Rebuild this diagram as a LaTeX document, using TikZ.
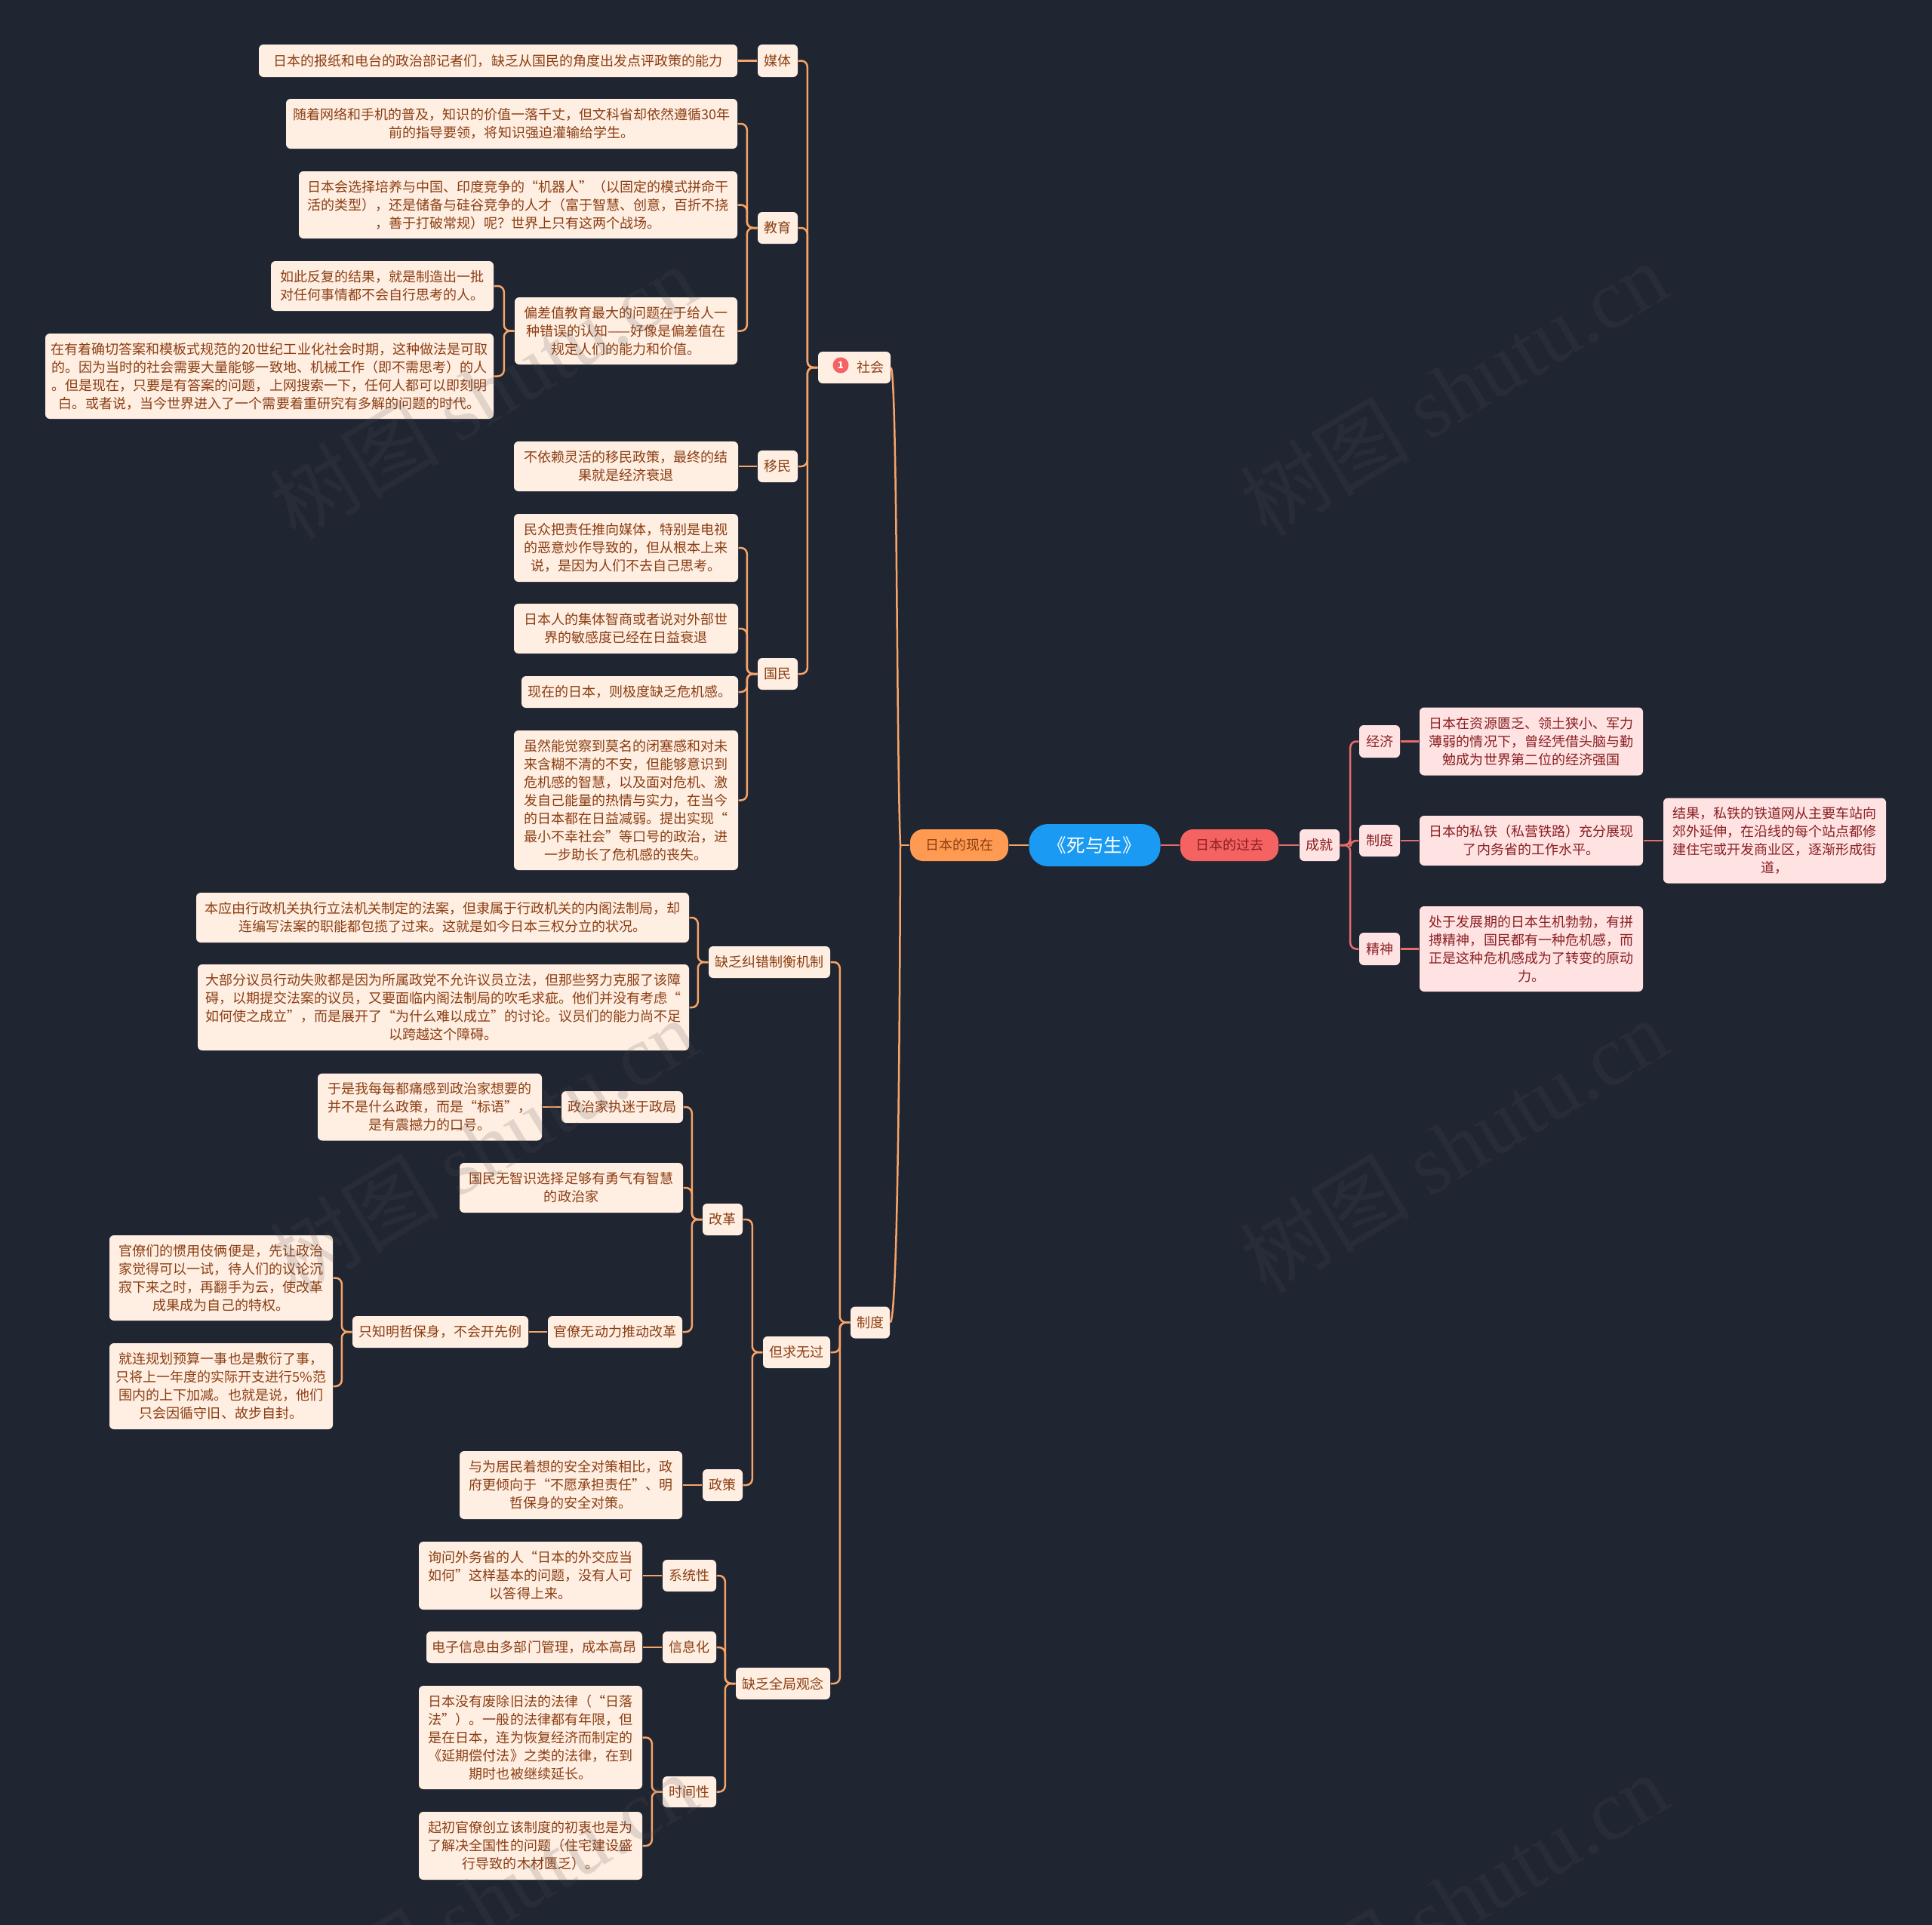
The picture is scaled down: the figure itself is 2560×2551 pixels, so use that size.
\documentclass[tikz,border=0pt]{standalone}
\usepackage{fontspec}
\setmainfont{Noto Sans CJK SC}
\newfontfamily\wmfont{Liberation Serif}
\definecolor{bgDark}{RGB}{32,37,50}
\definecolor{warmFill}{RGB}{255,238,226}
\definecolor{warmText}{RGB}{139,62,18}
\definecolor{warmLine}{RGB}{246,164,104}
\definecolor{roseFill}{RGB}{255,226,226}
\definecolor{roseText}{RGB}{138,31,34}
\definecolor{roseLine}{RGB}{232,108,106}
\definecolor{rootBlue}{RGB}{26,154,243}
\definecolor{nowOrange}{RGB}{255,154,82}
\definecolor{pastRed}{RGB}{245,98,98}
\definecolor{wmGray}{RGB}{83,83,83}
\tikzset{
  sz/.style 2 args={minimum width=#1*0.01cm, minimum height=#2*0.01cm},
  box/.style={inner sep=0pt, align=center, rounded corners=0.06cm,
    font=\fontsize{5.12}{6.83}\selectfont},
  warm/.style={box, fill=warmFill, text=warmText},
  rose/.style={box, fill=roseFill, text=roseText},
  pill/.style={box, rounded corners=0.17cm},
  linkW/.style={warmLine, line width=0.025cm, rounded corners=0.08cm},
  linkR/.style={roseLine, line width=0.025cm, rounded corners=0.08cm},
  wmark/.style={rotate=31, text=wmGray, text opacity=0.17,
    font=\fontsize{32}{32}\selectfont}
}
\begin{document}
\begin{tikzpicture}[x=0.01cm, y=-0.01cm]
  \fill[bgDark] (0,0) rectangle (2560,2551);
  \useasboundingbox (0,0) rectangle (2560,2551);
  % Centre
  \node[pill, sz={174}{56}, fill=rootBlue, text=white, rounded corners=0.25cm,
    font=\fontsize{7}{9}\selectfont] (root) at (1450.5,1120) {《死与生》};
  \node[pill, sz={130}{42}, fill=nowOrange, text=warmText] (now) at (1271,1120) {日本的现在};
  \node[pill, sz={130}{42}, fill=pastRed, text=roseText] (past) at (1629,1120) {日本的过去};
  % Past side
  \node[rose, sz={53}{42}] (chengjiu) at (1748.5,1120) {成就};
  \node[rose, sz={54}{43}] (jingji) at (1828,982.5) {经济};
  \node[rose, sz={54}{42}] (zhiduP) at (1828,1114) {制度};
  \node[rose, sz={54}{43}] (jingshen) at (1828,1257.5) {精神};
  \node[rose, sz={296}{90}] (jingjiA) at (2029,982.5) {日本在资源匮乏、领土狭小、军力\\薄弱的情况下，曾经凭借头脑与勤\\勉成为世界第二位的经济强国};
  \node[rose, sz={296}{66}] (zhidupA) at (2029,1114) {日本的私铁（私营铁路）充分展现\\了内务省的工作水平。};
  \node[rose, sz={295}{113}] (zhidupB) at (2351.5,1114) {结果，私铁的铁道网从主要车站向\\郊外延伸，在沿线的每个站点都修\\建住宅或开发商业区，逐渐形成街\\道，};
  \node[rose, sz={296}{113}] (jingshenA) at (2029,1257.5) {处于发展期的日本生机勃勃，有拼\\搏精神，国民都有一种危机感，而\\正是这种危机感成为了转变的原动\\力。};
  % Society
  \node[warm, sz={96}{42}] (shehui) at (1132,487) {\hspace{0.42cm}社会};
  \node[circle, fill=pastRed, text=white, inner sep=0pt, minimum size=0.21cm,
    font=\fontsize{3.6}{4}\selectfont\bfseries] (badge) at (1114,484) {1};
  \node[warm, sz={53}{43}] (meiti) at (1030.5,80.5) {媒体};
  \node[warm, sz={634}{43}] (meitiA) at (660,80.5) {日本的报纸和电台的政治部记者们，缺乏从国民的角度出发点评政策的能力};
  \node[warm, sz={53}{42}] (jiaoyu) at (1030.5,302) {教育};
  \node[warm, sz={598}{66}] (jiaoyuA) at (678,164) {随着网络和手机的普及，知识的价值一落千丈，但文科省却依然遵循30年\\前的指导要领，将知识强迫灌输给学生。};
  \node[warm, sz={581}{89}] (jiaoyuB) at (686.5,271.5) {日本会选择培养与中国、印度竞争的“机器人”（以固定的模式拼命干\\活的类型），还是储备与硅谷竞争的人才（富于智慧、创意，百折不挠\\，善于打破常规）呢？世界上只有这两个战场。};
  \node[warm, sz={295}{89}] (jiaoyuC) at (829.5,438.5) {偏差值教育最大的问题在于给人一\\种错误的认知——好像是偏差值在\\规定人们的能力和价值。};
  \node[warm, sz={295}{66}] (jiaoyuCa) at (506.5,379) {如此反复的结果，就是制造出一批\\对任何事情都不会自行思考的人。};
  \node[warm, sz={594}{113}] (jiaoyuCb) at (357,498.5) {在有着确切答案和模板式规范的20世纪工业化社会时期，这种做法是可取\\的。因为当时的社会需要大量能够一致地、机械工作（即不需思考）的人\\。但是现在，只要是有答案的问题，上网搜索一下，任何人都可以即刻明\\白。或者说，当今世界进入了一个需要着重研究有多解的问题的时代。};
  \node[warm, sz={53}{42}] (yimin) at (1030.5,618) {移民};
  \node[warm, sz={297}{66}] (yiminA) at (829.5,618) {不依赖灵活的移民政策，最终的结\\果就是经济衰退};
  \node[warm, sz={53}{42}] (guomin) at (1030.5,893) {国民};
  \node[warm, sz={297}{90}] (guominA) at (829.5,726) {民众把责任推向媒体，特别是电视\\的恶意炒作导致的，但从根本上来\\说，是因为人们不去自己思考。};
  \node[warm, sz={297}{66}] (guominB) at (829.5,833) {日本人的集体智商或者说对外部世\\界的敏感度已经在日益衰退};
  \node[warm, sz={287}{42}] (guominC) at (834.5,917) {现在的日本，则极度缺乏危机感。};
  \node[warm, sz={297}{185}] (guominD) at (829.5,1060.5) {虽然能觉察到莫名的闭塞感和对未\\来含糊不清的不安，但能够意识到\\危机感的智慧，以及面对危机、激\\发自己能量的热情与实力，在当今\\的日本都在日益减弱。提出实现“\\最小不幸社会”等口号的政治，进\\一步助长了危机感的丧失。};
  % System
  \node[warm, sz={52}{42}] (zhidu) at (1153,1752.5) {制度};
  \node[warm, sz={161}{42}] (jiucuo) at (1019.5,1275) {缺乏纠错制衡机制};
  \node[warm, sz={653}{66}] (jiucuoA) at (586.5,1216) {本应由行政机关执行立法机关制定的法案，但隶属于行政机关的内阁法制局，却\\连编写法案的职能都包揽了过来。这就是如今日本三权分立的状况。};
  \node[warm, sz={651}{114}] (jiucuoB) at (587.5,1335) {大部分议员行动失败都是因为所属政党不允许议员立法，但那些努力克服了该障\\碍，以期提交法案的议员，又要面临内阁法制局的吹毛求疵。他们并没有考虑“\\如何使之成立”，而是展开了“为什么难以成立”的讨论。议员们的能力尚不足\\以跨越这个障碍。};
  \node[warm, sz={89}{42}] (wuguo) at (1055.5,1792) {但求无过};
  \node[warm, sz={53}{42}] (gaige) at (957.5,1616) {改革};
  \node[warm, sz={161}{42}] (gaigeA) at (824.5,1467) {政治家执迷于政局};
  \node[warm, sz={297}{89}] (gaigeAa) at (569.5,1467) {于是我每每都痛感到政治家想要的\\并不是什么政策，而是“标语”，\\是有震撼力的口号。};
  \node[warm, sz={296}{66}] (gaigeB) at (757,1574) {国民无智识选择足够有勇气有智慧\\的政治家};
  \node[warm, sz={178}{42}] (gaigeC) at (815,1765) {官僚无动力推动改革};
  \node[warm, sz={233}{42}] (gaigeCa) at (583.5,1765) {只知明哲保身，不会开先例};
  \node[warm, sz={296}{113}] (gaigeCb) at (293,1693.5) {官僚们的惯用伎俩便是，先让政治\\家觉得可以一试，待人们的议论沉\\寂下来之时，再翻手为云，使改革\\成果成为自己的特权。};
  \node[warm, sz={296}{114}] (gaigeCc) at (293,1837) {就连规划预算一事也是敷衍了事，\\只将上一年度的实际开支进行5\%范\\围内的上下加减。也就是说，他们\\只会因循守旧、故步自封。};
  \node[warm, sz={53}{42}] (zhengce) at (957.5,1968) {政策};
  \node[warm, sz={295}{90}] (zhengceA) at (756.5,1968) {与为居民着想的安全对策相比，政\\府更倾向于“不愿承担责任”、明\\哲保身的安全对策。};
  \node[warm, sz={125}{42}] (quanju) at (1037.5,2231) {缺乏全局观念};
  \node[warm, sz={71}{42}] (xitong) at (913.5,2088) {系统性};
  \node[warm, sz={296}{90}] (xitongA) at (703,2088) {询问外务省的人“日本的外交应当\\如何”这样基本的问题，没有人可\\以答得上来。};
  \node[warm, sz={71}{42}] (xinxi) at (913.5,2183) {信息化};
  \node[warm, sz={286}{42}] (xinxiA) at (708,2183) {电子信息由多部门管理，成本高昂};
  \node[warm, sz={71}{41}] (shijian) at (913.5,2374.5) {时间性};
  \node[warm, sz={296}{137}] (shijianA) at (703,2302.5) {日本没有废除旧法的法律（“日落\\法”）。一般的法律都有年限，但\\是在日本，连为恢复经济而制定的\\《延期偿付法》之类的法律，在到\\期时也被继续延长。};
  \node[warm, sz={296}{90}] (shijianB) at (703,2446) {起初官僚创立该制度的初衷也是为\\了解决全国性的问题（住宅建设盛\\行导致的木材匮乏）。};
  % Connectors
  \coordinate (nowJoin) at (1193,1120);
  \draw[linkW] (root) -- (now);
  \draw[linkW] (now.west) -- (nowJoin);
  \draw[linkW] (shehui.east) .. controls (1189,505) and (1188,1000) .. (nowJoin);
  \draw[linkW] (zhidu.east) .. controls (1189,1745) and (1192,1420) .. (nowJoin);
  \foreach \from/\to in {shehui/meiti, shehui/jiaoyu, shehui/yimin, shehui/guomin,
      jiaoyu/jiaoyuA, jiaoyu/jiaoyuB, jiaoyu/jiaoyuC,
      jiaoyuC/jiaoyuCa, jiaoyuC/jiaoyuCb,
      guomin/guominA, guomin/guominB, guomin/guominC, guomin/guominD,
      zhidu/jiucuo, zhidu/wuguo, zhidu/quanju, jiucuo/jiucuoA, jiucuo/jiucuoB,
      wuguo/gaige, wuguo/zhengce, gaige/gaigeA, gaige/gaigeB, gaige/gaigeC,
      gaigeCa/gaigeCb, gaigeCa/gaigeCc,
      quanju/xitong, quanju/xinxi, quanju/shijian,
      shijian/shijianA, shijian/shijianB}
    \draw[linkW] (\from.west) -- ++(-13.5,0) |- (\to.east);
  \foreach \from/\to in {meiti/meitiA, yimin/yiminA, gaigeA/gaigeAa, gaigeC/gaigeCa,
      zhengce/zhengceA, xitong/xitongA, xinxi/xinxiA}
    \draw[linkW] (\from.west) -- (\to.east);
  \draw[linkR] (root) -- (past);
  \draw[linkR] (past) -- (chengjiu);
  \foreach \from/\to in {chengjiu/jingji, chengjiu/zhiduP, chengjiu/jingshen}
    \draw[linkR] (\from.east) -- ++(13.5,0) |- (\to.west);
  \foreach \from/\to in {jingji/jingjiA, zhiduP/zhidupA, zhidupA/zhidupB, jingshen/jingshenA}
    \draw[linkR] (\from.east) -- (\to.west);
  % Marks over everything
  \begin{scope}
    \clip (0,0) rectangle (2560,2551);
    \foreach \wx/\wy [count=\i] in {640/519, 1926/515, 640/1518, 1926/1518, 640/2518, 1926/2518}
      \node[wmark] (wm\i) at (\wx,\wy) {树图 {\wmfont shutu.cn}};
  \end{scope}
\end{tikzpicture}
\end{document}
